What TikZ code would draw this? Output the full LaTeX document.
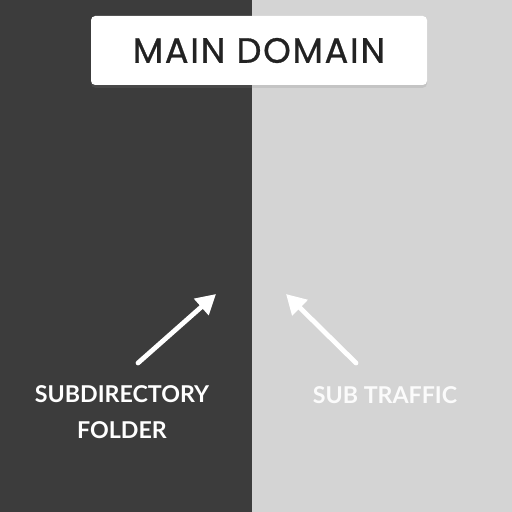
\documentclass[tikz,border=0pt]{standalone}
\usepackage{fontspec}
\setmainfont{Lato}
\newfontfamily\titlefont{Poppins}[LetterSpace=5, FakeBold=0.8]
\usetikzlibrary{arrows.meta,positioning,shadows}
\definecolor{darkside}{HTML}{3C3C3C}
\definecolor{lightside}{HTML}{D4D4D4}
\definecolor{inkdark}{HTML}{222222}

\begin{document}
\begin{tikzpicture}[x=0.025cm, y=-0.025cm, line join=round,
  titlebox/.style={draw=none, fill=white, rounded corners=3pt,
    minimum width=336*0.025cm, minimum height=69*0.025cm,
    drop shadow={opacity=0.18, shadow xshift=0pt, shadow yshift=-2pt},
    font=\titlefont\fontsize{25}{28}\selectfont, text=inkdark},
  sidelabel/.style={text=white, align=center, font=\bfseries\fontsize{16.5}{26}\selectfont},
  pointer/.style={white, line width=3.4pt, line cap=round,
    -{Triangle[length=14pt, width=15pt]}}]
% background halves
\fill[darkside] (0,0) rectangle (252,512);
\fill[lightside] (252,0) rectangle (512,512);
\useasboundingbox (0,0) rectangle (512,512);
% title
\node[titlebox] (main) at (259,50.5) {MAIN DOMAIN};
% arrows
\coordinate (L0) at (138,363);
\coordinate (L1) at (216,294);
\coordinate (R0) at (356,363);
\coordinate (R1) at (286,294);
\draw[pointer] (L0) -- (L1);
\draw[pointer] (R0) -- (R1);
% labels
\node[sidelabel] (sub) at (122,412) {SUBDIRECTORY\\FOLDER};
\node[sidelabel, text=white!97!gray] (traffic) at (385,395) {SUB TRAFFIC};
\end{tikzpicture}
\end{document}
